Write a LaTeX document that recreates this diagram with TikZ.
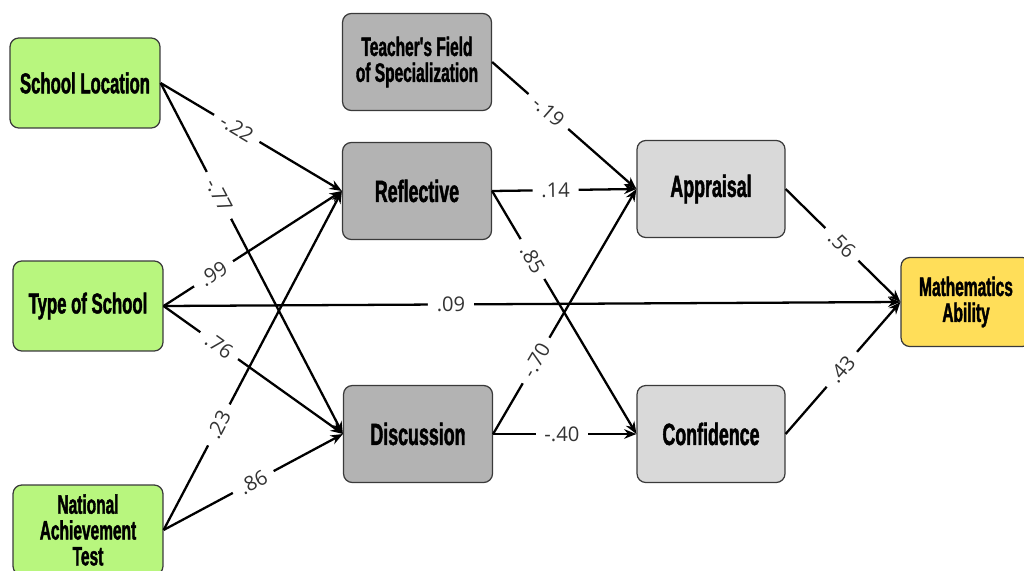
\documentclass[tikz,border=0pt]{standalone}
\usepackage{fontspec}
\usepackage{xcolor}
\usetikzlibrary{arrows.meta}
\newfontfamily\boxfont[FakeStretch=0.58, FakeBold=1.4]{Liberation Sans}
\newfontfamily\coeffont{Open Sans}
\definecolor{exogreen}{HTML}{B8F67E}
\definecolor{medgrey}{HTML}{B3B3B3}
\definecolor{palegrey}{HTML}{D9D9D9}
\definecolor{outyellow}{HTML}{FFDE59}
\definecolor{boxline}{HTML}{3A3A3A}
\definecolor{coefink}{HTML}{333333}

\begin{document}
\begin{tikzpicture}[x=0.02cm, y=-0.02cm, >={Stealth[length=7pt,width=5.5pt]},
                    box/.style={draw=boxline, line width=0.7pt, rounded corners=5pt,
                                align=center, text=black, inner sep=2pt},
                    exo/.style={box, fill=exogreen, minimum width=3cm, minimum height=1.8cm},
                    medbox/.style={box, fill=medgrey, minimum width=2.98cm, minimum height=1.94cm},
                    palebox/.style={box, fill=palegrey, minimum width=2.96cm, minimum height=1.94cm},
                    outbox/.style={box, fill=outyellow, minimum width=2.6cm, minimum height=1.78cm},
                    big/.style={font=\boxfont\bfseries\fontsize{17.5}{18}\selectfont},
                    mid/.style={font=\boxfont\bfseries\fontsize{16.4}{17}\selectfont},
                    small/.style={font=\boxfont\bfseries\fontsize{15.2}{14.7}\selectfont},
                    link/.style={->, line width=1.3pt},
                    coef/.style={fill=white, sloped, inner xsep=5pt, inner ysep=1pt, text=coefink,
                                 font=\coeffont\fontsize{11.5}{13}\selectfont}]

  \useasboundingbox (0,0) rectangle (1024,571);

  %% exogenous variables
  \node[exo, mid]   (loc)  at (85,83)  {School Location};
  \node[exo, mid]   (type) at (88,306) {Type of School};
  \node[exo, small] (nat)  at (88,530) {National\\Achievement\\Test};

  %% mediators
  \node[medbox, small] (field) at (417,62)  {Teacher's Field\\of Specialization};
  \node[medbox, big]   (refl)  at (417,191) {Reflective};
  \node[medbox, big]   (disc)  at (418,434) {Discussion};
  \node[palebox, big]  (appr)  at (711,189) {Appraisal};
  \node[palebox, big]  (conf)  at (711,434) {Confidence};

  %% outcome
  \node[outbox, small] (math) at (966,302) {Mathematics\\Ability};

  %% paths from the exogenous variables
  \draw[link] (loc.east)  -- node[coef, pos=0.42] {-.22} (refl.west);
  \draw[link] (loc.east)  -- node[coef, pos=0.32] {-.77} (disc.west);
  \draw[link] (type.east) -- node[coef, pos=0.28] {.99}  (refl.west);
  \draw[link] (type.east) -- node[coef, pos=0.31] {.76}  (disc.west);
  \draw[link] (type.east) -- node[coef, pos=0.39] {.09}  (math.west);
  \draw[link] (nat.east)  -- node[coef, pos=0.31] {.23}  (refl.west);
  \draw[link] (nat.east)  -- node[coef, pos=0.50] {.86}  (disc.west);

  %% paths among the mediators
  \draw[link] (field.east) -- node[coef, pos=0.39] {-.19} (appr.west);
  \draw[link] (refl.east)  -- node[coef, pos=0.44] {.14}  (appr.west);
  \draw[link] (refl.east)  -- node[coef, pos=0.28] {.85}  (conf.west);
  \draw[link] (disc.east)  -- node[coef, pos=0.30] {-.70} (appr.west);
  \draw[link] (disc.east)  -- node[coef, pos=0.48] {-.40} (conf.west);

  %% paths to the outcome
  \draw[link] (appr.east) -- node[coef, pos=0.49] {.56} (math.west);
  \draw[link] (conf.east) -- node[coef, pos=0.49] {.43} (math.west);

\end{tikzpicture}
\end{document}
